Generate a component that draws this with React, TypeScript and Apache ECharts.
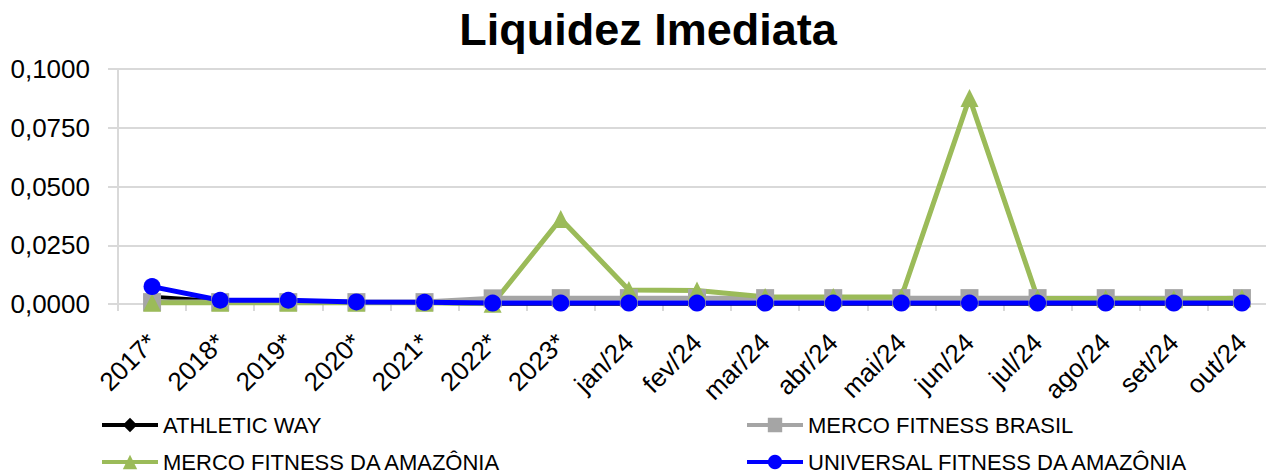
import React, { useEffect, useRef } from "react";
import * as echarts from "echarts";

const categories = ["2017*", "2018*", "2019*", "2020*", "2021*", "2022*", "2023*", "jan/24", "fev/24", "mar/24", "abr/24", "mai/24", "jun/24", "jul/24", "ago/24", "set/24", "out/24"];
const athleticWay = [0.0031, 0.0012, 0.0009, 0.0007, 0.0005, 0.0001, 0.0001, 0.0001, 0.0001, 0.0001, 0.0001, 0.0001, 0.0001, 0.0001, 0.0001, 0.0001, 0.0001];
const mercoBrasil = [0.0008, 0.0008, 0.0008, 0.0008, 0.0008, 0.0024, 0.0025, 0.0025, 0.0025, 0.0025, 0.0025, 0.0025, 0.0025, 0.0025, 0.0025, 0.0025, 0.0025];
const mercoAmazonia = [0.0005, 0.0005, 0.0005, 0.0005, 0.0005, 0.0001, 0.0362, 0.006, 0.0057, 0.003, 0.003, 0.003, 0.0877, 0.0025, 0.0022, 0.002, 0.0025];
const universal = [0.0074, 0.0016, 0.0016, 0.0009, 0.0007, 0.0004, 0.0004, 0.0004, 0.0004, 0.0004, 0.0004, 0.0004, 0.0004, 0.0004, 0.0004, 0.0004, 0.0004];
const yTicks = [0, 0.025, 0.05, 0.075, 0.1];

const seriesNames = ["ATHLETIC WAY", "MERCO FITNESS BRASIL", "MERCO FITNESS DA AMAZÔNIA", "UNIVERSAL FITNESS DA AMAZÔNIA"];

export default function App() {
  const ref = useRef<HTMLDivElement>(null);
  useEffect(() => {
    document.body.style.margin = "0";
    const chart = echarts.init(ref.current!, null, { renderer: "svg" });
    const font = "Liberation Sans, Arial, sans-serif";
    const legendBase = (name: string, left: number, top: number) => ({
      data: [name],
      left,
      top,
      orient: "horizontal",
      itemWidth: 56,
      itemHeight: 18,
      itemGap: 4,
      lineStyle: { width: 4 },
      textStyle: { fontFamily: font, fontSize: 22, color: "#000" },
      padding: 0,
      selectedMode: false,
    });
    chart.setOption({
      animation: false,
      backgroundColor: "#fff",
      title: {
        text: "Liquidez Imediata",
        left: 643,
        textAlign: "center",
        top: 2,
        textStyle: { fontFamily: font, fontSize: 45, fontWeight: "bold", color: "#000" },
      },
      legend: [
        legendBase(seriesNames[0], 100, 414),
        legendBase(seriesNames[2], 100, 451),
        legendBase(seriesNames[1], 745, 414),
        legendBase(seriesNames[3], 745, 451),
      ],
      grid: { left: 118, top: 69, width: 1158, bottom: 169, containLabel: false, outerBoundsMode: "none" },
      xAxis: {
        type: "category",
        data: categories,
        boundaryGap: true,
        axisLine: { lineStyle: { color: "#D9D9D9", width: 2 } },
        axisTick: { show: true, length: 7, lineStyle: { color: "#D9D9D9", width: 2 } },
        axisLabel: { rotate: 45, fontFamily: font, fontSize: 26, color: "#000", margin: 34, interval: 0 },
      },
      yAxis: {
        type: "value",
        min: 0,
        max: 0.1,
        interval: 0.025,
        axisLine: { show: true, lineStyle: { color: "#D9D9D9", width: 2 } },
        axisTick: { show: true, length: 10, lineStyle: { color: "#D9D9D9", width: 2 } },
        splitLine: { lineStyle: { color: "#D9D9D9", width: 2 } },
        axisLabel: {
          fontFamily: font,
          fontSize: 26,
          color: "#000",
          margin: 28,
          formatter: (v: number) => (yTicks.some((t) => Math.abs(t - v) < 1e-9) ? v.toFixed(4).replace(".", ",") : ""),
        },
      },
      series: [
        {
          name: seriesNames[0],
          type: "line",
          data: athleticWay,
          symbol: "diamond",
          symbolSize: 12,
          lineStyle: { color: "#000", width: 4 },
          itemStyle: { color: "#000" },
        },
        {
          name: seriesNames[1],
          type: "line",
          data: mercoBrasil,
          symbol: "rect",
          symbolSize: 18,
          lineStyle: { color: "#A5A5A5", width: 5 },
          itemStyle: { color: "#A5A5A5" },
        },
        {
          name: seriesNames[2],
          type: "line",
          data: mercoAmazonia,
          symbol: "triangle",
          symbolSize: 18,
          lineStyle: { color: "#9BBB59", width: 5 },
          itemStyle: { color: "#9BBB59" },
        },
        {
          name: seriesNames[3],
          type: "line",
          data: universal,
          symbol: "circle",
          symbolSize: 17,
          lineStyle: { color: "#0000FF", width: 5 },
          itemStyle: { color: "#0000FF" },
        },
      ],
    });
    return () => chart.dispose();
  }, []);
  return <div ref={ref} style={{ width: 1266, height: 473 }} />;
}
